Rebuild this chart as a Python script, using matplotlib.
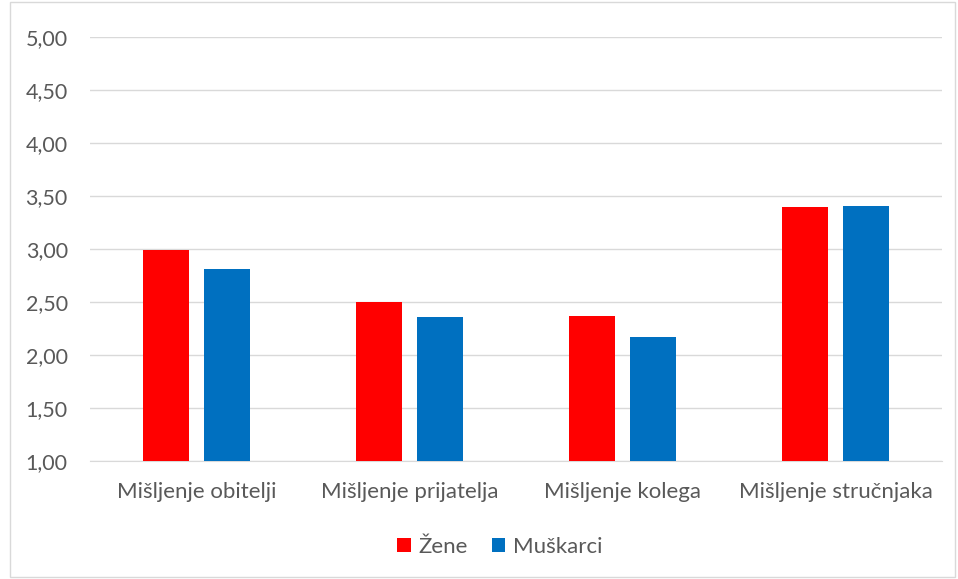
import matplotlib
matplotlib.use("Agg")
import matplotlib.pyplot as plt
import numpy as np
from matplotlib.patches import Rectangle

categories = ["Mišljenje obitelji", "Mišljenje prijatelja", "Mišljenje kolega", "Mišljenje stručnjaka"]
zene = [2.99, 2.50, 2.37, 3.40]
muskarci = [2.81, 2.36, 2.17, 3.41]
series_names = ["Žene", "Muškarci"]
yticks = [1.0, 1.5, 2.0, 2.5, 3.0, 3.5, 4.0, 4.5, 5.0]

plt.rcParams['font.family'] = ['Lato', 'DejaVu Sans']
W, H = 958, 579
fig = plt.figure(figsize=(W/100, H/100), dpi=100)
ax = fig.add_axes([90/W, 1-461/H, (942-90)/W, (461-37)/H])

x = np.arange(len(categories))
bw = 0.22
off = 0.143
ax.bar(x - off, np.array(zene) - 1.0, bw, bottom=1.0, color="#FF0000", label=series_names[0], zorder=3)
ax.bar(x + off, np.array(muskarci) - 1.0, bw, bottom=1.0, color="#0070C0", label=series_names[1], zorder=3)

ax.set_xlim(-0.5, len(categories) - 0.5)
ax.set_ylim(1.0, 5.0)
ax.set_yticks(yticks)
ax.set_yticklabels([f"{v:.2f}".replace(".", ",") for v in yticks])
ax.set_xticks(x)
ax.set_xticklabels(categories)
ax.tick_params(axis='both', length=0, colors="#595959")
ax.tick_params(axis='y', pad=16, labelsize=15.5)
ax.tick_params(axis='x', pad=15, labelsize=16)
ax.grid(axis='y', color="#D9D9D9", linewidth=1, zorder=0)
for s in ["top", "right", "left"]:
    ax.spines[s].set_visible(False)
ax.spines["bottom"].set_color("#D9D9D9")

leg = fig.legend(loc="center", bbox_to_anchor=(500/W, 1-547/H), ncol=2, frameon=False,
                 fontsize=16, handlelength=0.6, handleheight=0.6, handletextpad=0.35, columnspacing=1.1)
for t in leg.get_texts():
    t.set_color("#595959")

fig.patches.append(Rectangle((10/W, 2/H), (955-10)/W, (577-2)/H, transform=fig.transFigure,
                             fill=False, edgecolor="#D9D9D9", linewidth=1))

fig.savefig("out.png", dpi=100, facecolor="white")
